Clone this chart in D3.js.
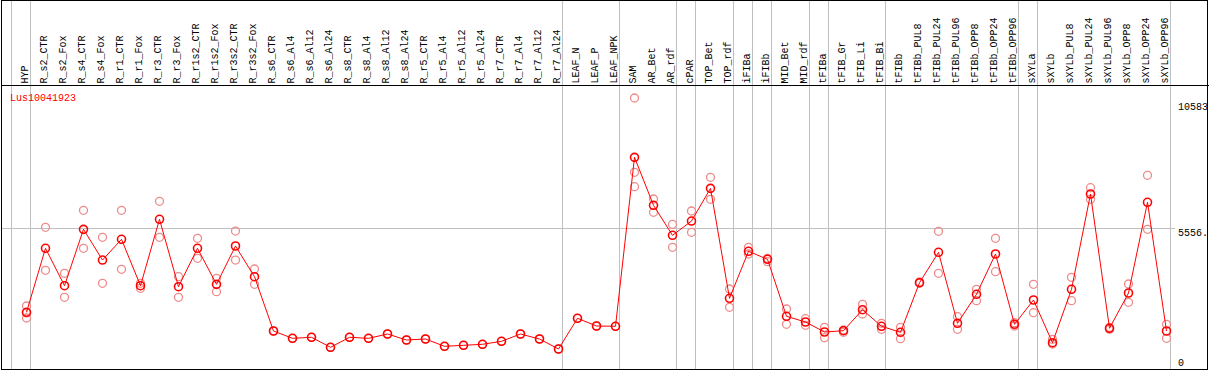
<!DOCTYPE html>
<html>
<head>
<meta charset="utf-8">
<script src="https://cdn.jsdelivr.net/npm/d3@7/dist/d3.min.js"></script>
<style>
  html, body { margin: 0; padding: 0; background: #fff; }
  svg { display: block; }
  text { font-family: "Liberation Mono", "DejaVu Sans Mono", monospace; font-size: 10px; }
</style>
</head>
<body>
<script>
const categories = ["HYP","R_s2_CTR","R_s2_Fox","R_s4_CTR","R_s4_Fox","R_r1_CTR","R_r1_Fox","R_r3_CTR","R_r3_Fox",
  "R_r1s2_CTR","R_r1s2_Fox","R_r3s2_CTR","R_r3s2_Fox","R_s6_CTR","R_s6_Al4","R_s6_Al12","R_s6_Al24",
  "R_s8_CTR","R_s8_Al4","R_s8_Al12","R_s8_Al24","R_r5_CTR","R_r5_Al4","R_r5_Al12","R_r5_Al24",
  "R_r7_CTR","R_r7_Al4","R_r7_Al12","R_r7_Al24","LEAF_N","LEAF_P","LEAF_NPK","SAM","AR_Bet","AR_rdf",
  "cPAR","TOP_Bet","TOP_rdf","iFIBa","iFIBb","MID_Bet","MID_rdf","tFIBa","tFIB_Gr","tFIB_Li","tFIB_Bi",
  "tFIBb","tFIBb_PUL8","tFIBb_PUL24","tFIBb_PUL96","tFIBb_OPP8","tFIBb_OPP24","tFIBb_OPP96","sXYLa","sXYLb",
  "sXYLb_PUL8","sXYLb_PUL24","sXYLb_PUL96","sXYLb_OPP8","sXYLb_OPP24","sXYLb_OPP96"];

const meanValues = [2275,4756,3306,5492,4302,5105,3306,5880,3268,
  4756,3360,4845,3655,1550,1267,1306,919,
  1306,1267,1434,1202,1240,957,996,1035,
  1151,1434,1240,853,2043,1744,1733,8283,6423,5260,
  5814,7081,2818,4640,4330,2120,1899,1512,1562,2376,1733,
  1500,3423,4601,1849,2973,4535,1810,2752,1097,
  3167,6861,1655,3023,6539,1550];

const replicates = [[2520,2250,2055],[5570,3903],[3787,2857],[6229,4756],[5182,3399],[6229,3942],[3399,3205],[6578,5182],[3655,2857],
  [5143,4368],[3593,3074],[5426,4302],[3954,3360],[1550],[1267],[1306],[919],
  [1306],[1267],[1434],[1202],[1240],[957],[996],[1035],
  [1151],[1434],[1240],[853],[2043],[1744],[1733],[10583,7702,7144],[6667,6151],[5686,4795],
  [6202,5376],[7508,6655],[3178,2469],[4795,4535],[4368,4237],[2403,1810],[2027,1771],[1694,1291],[1589,1500],[2585,2209],[1849,1616],
  [1694,1252],[3450,3400],[5415,3787],[2105,1616],[3167,2725],[5143,3849],[1872,1744],[3360,2260],[1229,1047],
  [3632,2725],[7105,6655],[1694,1616],[3372,2663],[7585,5492],[1810,1267]];

const groupBoundaries = [0,1,29,32,35,36,38,39,40,42,43,46,53,54,61];
const yTickValues = [0, 5556, 10583];
const yTickLabels = ["0", "5556.", "10583"];
const geneName = "Lus10041923";

const W = 1209, H = 370;
const svg = d3.select("body").append("svg").attr("width", W).attr("height", H);

const x = d3.scaleBand().domain(categories).range([11, 1170]).padding(0);
const y = d3.scaleLinear().domain([0, 10583]).range([371, 98]);
const boundaryX = k => k < categories.length ? x(categories[k]) : x.range()[1];

// vertical group gridlines
svg.append("g").selectAll("line").data(groupBoundaries).join("line")
  .attr("x1", d => Math.round(boundaryX(d)) + 0.5).attr("x2", d => Math.round(boundaryX(d)) + 0.5)
  .attr("y1", 0).attr("y2", H)
  .attr("stroke", "#c0c0c0").attr("stroke-width", 1);

// horizontal gridline at middle tick
svg.append("line")
  .attr("x1", 1).attr("x2", 1175)
  .attr("y1", Math.round(y(yTickValues[1])) + 0.5).attr("y2", Math.round(y(yTickValues[1])) + 0.5)
  .attr("stroke", "#c0c0c0").attr("stroke-width", 1);

// header separator
svg.append("line").attr("x1", 1).attr("x2", W).attr("y1", 85.5).attr("y2", 85.5)
  .attr("stroke", "#000").attr("stroke-width", 1);

// category labels (rotated)
svg.append("g").selectAll("text").data(categories).join("text")
  .attr("transform", d => `translate(${x(d) + 17},83.5) rotate(-90)`)
  .attr("text-anchor", "start")
  .attr("fill", "#000")
  .text(d => d);

// gene name
svg.append("text").attr("x", 10).attr("y", 101).attr("fill", "#ff0000").text(geneName);

// right axis labels
svg.append("clipPath").attr("id", "rclip").append("rect")
  .attr("x", 1171).attr("y", 86).attr("width", 36).attr("height", 283);
const labelY = [366, y(yTickValues[1]) + 8.5, y(yTickValues[2]) + 12];
svg.append("g").attr("clip-path", "url(#rclip)").selectAll("text").data(yTickValues).join("text")
  .attr("x", 1178)
  .attr("y", (d, i) => labelY[i])
  .attr("fill", "#000")
  .text((d, i) => yTickLabels[i]);

// replicate points
const repData = [];
replicates.forEach((arr, i) => arr.forEach(v => repData.push({c: categories[i], v})));
svg.append("g").selectAll("circle").data(repData).join("circle")
  .attr("cx", d => x(d.c) + 15.5).attr("cy", d => y(d.v)).attr("r", 4)
  .attr("fill", "none").attr("stroke", "#ee8a8a").attr("stroke-width", 1.3);

// mean line
const line = d3.line().x((d, i) => x(categories[i]) + 15.5).y(d => y(d));
svg.append("path").datum(meanValues).attr("d", line)
  .attr("fill", "none").attr("stroke", "#ff0000").attr("stroke-width", 1);

// mean points
svg.append("g").selectAll("circle").data(meanValues).join("circle")
  .attr("cx", (d, i) => x(categories[i]) + 15.5).attr("cy", d => y(d)).attr("r", 4)
  .attr("fill", "none").attr("stroke", "#ff0000").attr("stroke-width", 1.6);

// outer border
svg.append("rect").attr("x", 1.5).attr("y", 0.5).attr("width", 1206).attr("height", 369)
  .attr("fill", "none").attr("stroke", "#000").attr("stroke-width", 1);
</script>
</body>
</html>
